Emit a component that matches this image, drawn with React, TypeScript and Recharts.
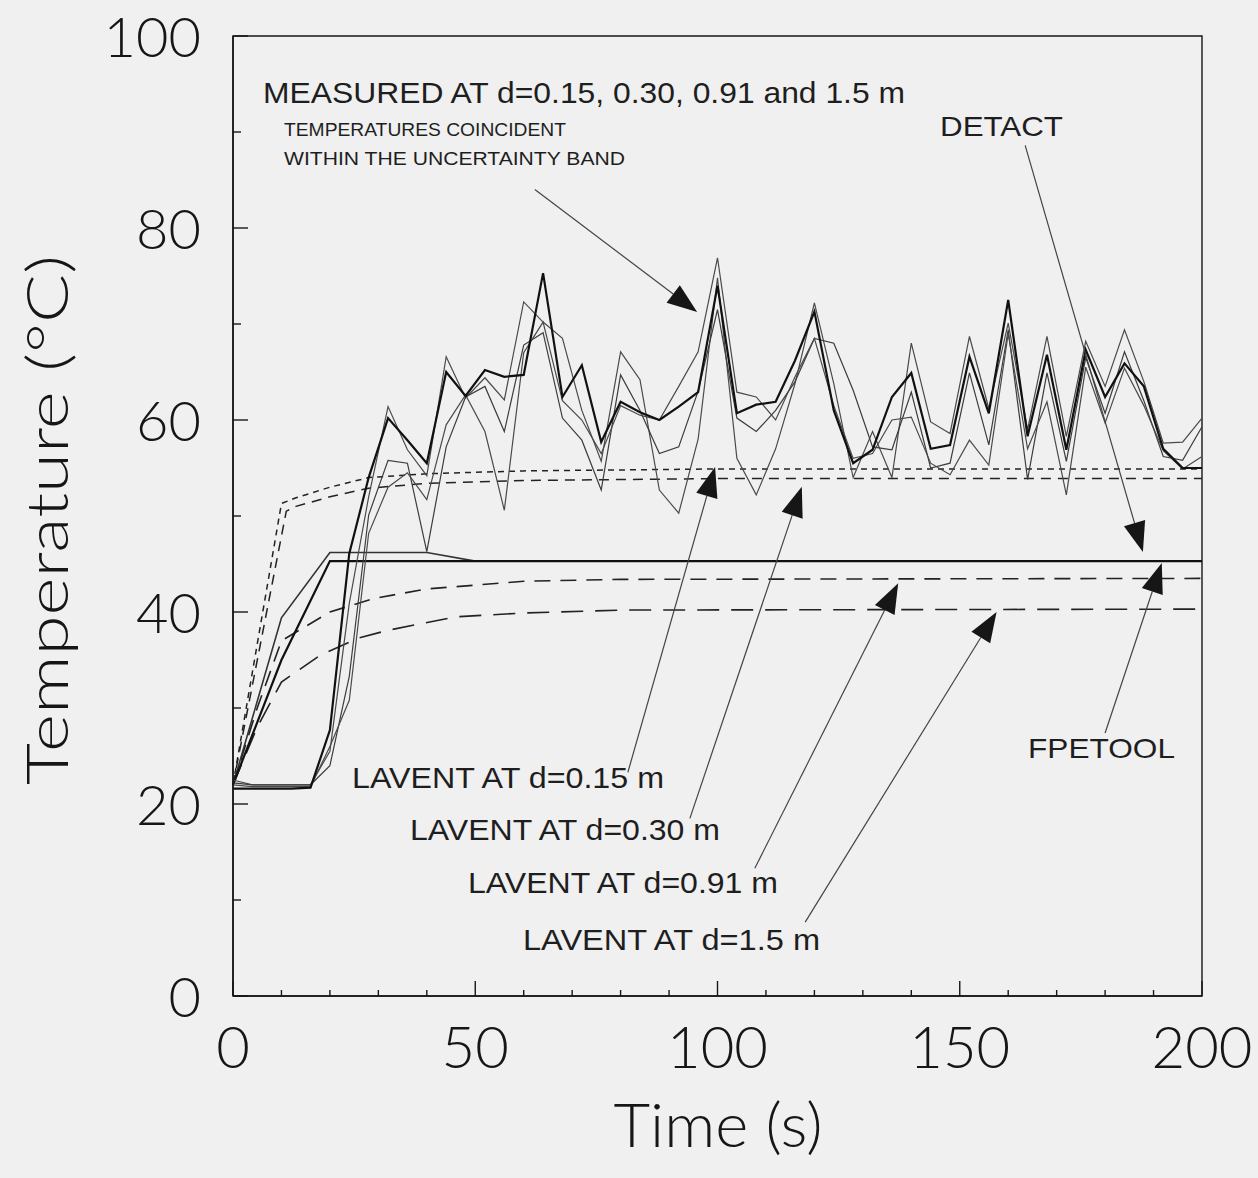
import { LineChart, Line, XAxis, YAxis, ReferenceLine, ReferenceArea } from "recharts"

const W = 1258
const H = 1178
const AXIS_FONT = "Lato, 'Open Sans', 'DejaVu Sans', sans-serif"
const NOTE_FONT = "'Liberation Sans', Arial, sans-serif"
const INK = "#161616"

// time axis of the measurements (s)
const times = [0, 4, 8, 12, 16, 20, 24, 28, 32, 36, 40, 44, 48, 52, 56, 60, 64, 68, 72, 76, 80, 84, 88, 92, 96, 100, 104, 108, 112, 116, 120, 124, 128, 132, 136, 140, 144, 148, 152, 156, 160, 164, 168, 172, 176, 180, 184, 188, 192, 196, 200]

// measured temperatures (deg C), four probes
const measuredA = [21.6, 21.6, 21.6, 21.6, 21.7, 27.7, 46.1, 54, 60.2, 57.9, 55.5, 65, 62.5, 65.2, 64.5, 64.7, 75.3, 62.4, 65.7, 57.7, 61.9, 60.8, 60, 61.4, 62.9, 74, 60.7, 61.6, 61.9, 66.2, 71.3, 61, 55.5, 56.9, 62.4, 64.9, 57, 57.4, 66.6, 60.7, 72.5, 58.3, 66.8, 56.9, 67.3, 62.4, 65.9, 63.5, 57, 55, 55]
const measuredB = [22.5, 22, 22, 22, 22, 25.5, 40.9, 52, 61.4, 56.9, 54.2, 66.6, 62.3, 64.4, 62.1, 72.3, 70.2, 68.5, 61, 55.7, 67.1, 64.2, 52.7, 50.3, 58, 74.8, 56, 52.2, 57, 63.8, 72.2, 63.8, 54, 58.8, 54, 68, 59.8, 58.6, 68.7, 61.2, 70.1, 59, 68.7, 58.3, 68.2, 63.5, 69.4, 64, 57.6, 57.7, 60.2]
const measuredC = [22.2, 22, 22, 22, 22, 24, 33.3, 50.1, 55.8, 55.5, 46.3, 57.2, 62.4, 63.5, 58.8, 67.8, 69.1, 60.2, 57.9, 52.7, 64.7, 61, 56.5, 57.2, 63, 71.5, 60.2, 58.8, 61, 64, 68.5, 68, 63.1, 57.2, 56.9, 62.9, 55, 55.5, 64.9, 57.4, 69.4, 53.8, 64.9, 55.7, 66.5, 60.7, 67.1, 62, 56.2, 55.8, 59.3]
const measuredD = [22, 21.8, 21.8, 21.8, 21.8, 26, 30.8, 48.2, 53, 54.5, 51.7, 59.5, 62.6, 58.8, 50.6, 67, 70.2, 62, 60, 56.5, 61.5, 60.5, 60, 63.5, 67.1, 76.9, 62.9, 62.4, 60, 64.5, 68.5, 61.5, 56, 56.5, 60, 60.3, 55.5, 54.3, 57.9, 55.3, 69, 57, 61.9, 52.2, 65.5, 59.7, 65.4, 61.5, 56.8, 54.9, 56.2]

// zone models
const detactT = [0, 10, 20, 40, 50, 200]
const detactV = [22, 39.4, 46.2, 46.2, 45.3, 45.3]
const fpetoolT = [0, 10, 20, 200]
const fpetoolV = [22, 35, 45.3, 45.3]

// LAVENT at four distances
const lav015T = [0, 10, 13, 20, 28, 40, 60, 100, 200]
const lav015V = [22, 51.3, 51.9, 53, 54, 54.4, 54.7, 54.9, 54.9]
const lav030T = [0, 11, 13, 20, 28, 40, 60, 100, 200]
const lav030V = [22, 50.5, 51, 52, 52.9, 53.4, 53.7, 53.9, 53.9]
const lav091T = [0, 5, 10, 20, 29, 40, 60, 80, 200]
const lav091V = [22, 30, 37, 40, 41.4, 42.4, 43.2, 43.4, 43.5]
const lav15T = [0, 5, 10, 18, 26, 32, 46, 60, 80, 200]
const lav15V = [22, 28, 32.7, 35.5, 37.3, 38.1, 39.5, 39.9, 40.2, 40.3]

const xTicks = [0, 10, 20, 30, 40, 50, 60, 70, 80, 90, 100, 110, 120, 130, 140, 150, 160, 170, 180, 190, 200]
const xLabels = [0, 50, 100, 150, 200]
const yTicks = [0, 10, 20, 30, 40, 50, 60, 70, 80, 90, 100]
const yLabels = [0, 20, 40, 60, 80, 100]

// annotation arrows: [from t, from T, to t, to T]
const arrows = [
  [62.3, 84, 95.8, 71.25],
  [163.5, 88.6, 187.8, 46.25],
  [81.5, 23.3, 99.5, 55.1],
  [94.3, 18.5, 117.4, 53.05],
  [107.7, 13.3, 137.3, 43.0],
  [118.1, 7.7, 157.6, 40.0],
  [180, 27.4, 191.7, 45.1],
]

const zip = (ts: number[], vs: number[]) => ts.map((t, i) => ({ t, v: vs[i] }))

function XTick(props: any) {
  const { x, y, payload } = props
  const major = xLabels.includes(payload.value)
  return (
    <g>
      <line x1={x} x2={x} y1={y} y2={y - (major ? 15 : 6)} stroke={INK} strokeWidth={1.4} />
      {major && (
        <text x={x} y={y + 72} textAnchor="middle" fontSize={58} fontWeight={300} fontFamily={AXIS_FONT} fill={INK}>
          {payload.value}
        </text>
      )}
    </g>
  )
}

function YTick(props: any) {
  const { x, y, payload } = props
  const major = yLabels.includes(payload.value)
  return (
    <g>
      <line x1={x} x2={x + (major ? 15 : 8)} y1={y} y2={y} stroke={INK} strokeWidth={1.4} />
      {major && (
        <text x={x - 32} y={y + 21} textAnchor="end" fontSize={56} fontWeight={300} fontFamily={AXIS_FONT} fill={INK}>
          {payload.value}
        </text>
      )}
    </g>
  )
}

function Arrow(props: any) {
  const { x1, y1, x2, y2 } = props
  const dx = x2 - x1
  const dy = y2 - y1
  const len = Math.sqrt(dx * dx + dy * dy)
  const ux = dx / len
  const uy = dy / len
  const head = 30
  const half = 11
  const bx = x2 - ux * head
  const by = y2 - uy * head
  const pts = `${x2},${y2} ${bx - uy * half},${by + ux * half} ${bx + uy * half},${by - ux * half}`
  return (
    <g>
      <line x1={x1} y1={y1} x2={bx} y2={by} stroke="#444" strokeWidth={1.2} />
      <polygon points={pts} fill={INK} />
    </g>
  )
}

export default function App() {
  return (
    <div style={{ position: "absolute", left: 0, top: 0, width: W, height: H, background: "#f0f0f0" }}>
      <LineChart width={W} height={H} margin={{ top: 36, right: 56, bottom: 0, left: 0 }}>
        <XAxis
          dataKey="t"
          type="number"
          domain={[0, 200]}
          ticks={xTicks}
          interval={0}
          tickSize={0}
          tickMargin={0}
          tickLine={false}
          axisLine={{ stroke: INK, strokeWidth: 1.5 }}
          tick={<XTick />}
          height={182}
        />
        <YAxis
          type="number"
          domain={[0, 100]}
          ticks={yTicks}
          interval={0}
          tickSize={0}
          tickMargin={0}
          tickLine={false}
          axisLine={{ stroke: INK, strokeWidth: 1.5 }}
          tick={<YTick />}
          width={233}
        />
        <ReferenceArea x1={0} x2={200} y1={0} y2={100} fill="none" stroke={INK} strokeWidth={1.4} />

        <Line data={zip(lav015T, lav015V)} dataKey="v" type="linear" stroke="#222" strokeWidth={1.5} strokeDasharray="6 5" dot={false} isAnimationActive={false} />
        <Line data={zip(lav030T, lav030V)} dataKey="v" type="linear" stroke="#222" strokeWidth={1.5} strokeDasharray="10 7" dot={false} isAnimationActive={false} />
        <Line data={zip(lav091T, lav091V)} dataKey="v" type="linear" stroke="#222" strokeWidth={1.6} strokeDasharray="16 10" dot={false} isAnimationActive={false} />
        <Line data={zip(lav15T, lav15V)} dataKey="v" type="linear" stroke="#222" strokeWidth={1.6} strokeDasharray="22 12" dot={false} isAnimationActive={false} />
        <Line data={zip(detactT, detactV)} dataKey="v" type="linear" stroke="#333" strokeWidth={1.6} dot={false} isAnimationActive={false} />
        <Line data={zip(fpetoolT, fpetoolV)} dataKey="v" type="linear" stroke="#111" strokeWidth={2.2} dot={false} isAnimationActive={false} />

        <Line data={zip(times, measuredB)} dataKey="v" type="linear" stroke="#4a4a4a" strokeWidth={1.2} dot={false} isAnimationActive={false} />
        <Line data={zip(times, measuredC)} dataKey="v" type="linear" stroke="#3c3c3c" strokeWidth={1.2} dot={false} isAnimationActive={false} />
        <Line data={zip(times, measuredD)} dataKey="v" type="linear" stroke="#4a4a4a" strokeWidth={1.2} dot={false} isAnimationActive={false} />
        <Line data={zip(times, measuredA)} dataKey="v" type="linear" stroke="#111" strokeWidth={2.2} dot={false} isAnimationActive={false} />

        {arrows.map((a, i) => (
          <ReferenceLine
            key={i}
            segment={[{ x: a[0], y: a[1] }, { x: a[2], y: a[3] }]}
            shape={<Arrow />}
            ifOverflow="visible"
          />
        ))}
      </LineChart>

      <svg width={W} height={H} style={{ position: "absolute", left: 0, top: 0, pointerEvents: "none" }}>
        <g fill="#1e1e1e" fontFamily={NOTE_FONT}>
          <text x={263} y={103} fontSize={30} textLength={642} lengthAdjust="spacingAndGlyphs">MEASURED AT d=0.15, 0.30, 0.91 and 1.5 m</text>
          <text x={284} y={136} fontSize={19} textLength={282} lengthAdjust="spacingAndGlyphs">TEMPERATURES COINCIDENT</text>
          <text x={284} y={165} fontSize={19} textLength={341} lengthAdjust="spacingAndGlyphs">WITHIN THE UNCERTAINTY BAND</text>
          <text x={940} y={136} fontSize={28} textLength={123} lengthAdjust="spacingAndGlyphs">DETACT</text>
          <text x={352} y={788} fontSize={30} textLength={312} lengthAdjust="spacingAndGlyphs">LAVENT AT d=0.15 m</text>
          <text x={410} y={840} fontSize={30} textLength={310} lengthAdjust="spacingAndGlyphs">LAVENT AT d=0.30 m</text>
          <text x={468} y={893} fontSize={30} textLength={310} lengthAdjust="spacingAndGlyphs">LAVENT AT d=0.91 m</text>
          <text x={523} y={950} fontSize={30} textLength={297} lengthAdjust="spacingAndGlyphs">LAVENT AT d=1.5 m</text>
          <text x={1028} y={758} fontSize={28} textLength={147} lengthAdjust="spacingAndGlyphs">FPETOOL</text>
        </g>
        <g fill={INK} fontFamily={AXIS_FONT} fontWeight={300}>
          <text x={718} y={1147} fontSize={62} textAnchor="middle" textLength={209} lengthAdjust="spacingAndGlyphs">Time (s)</text>
          <text transform="translate(68, 520) rotate(-90)" fontSize={58} textAnchor="middle" textLength={530} lengthAdjust="spacingAndGlyphs">Temperature (°C)</text>
        </g>
      </svg>
    </div>
  )
}
